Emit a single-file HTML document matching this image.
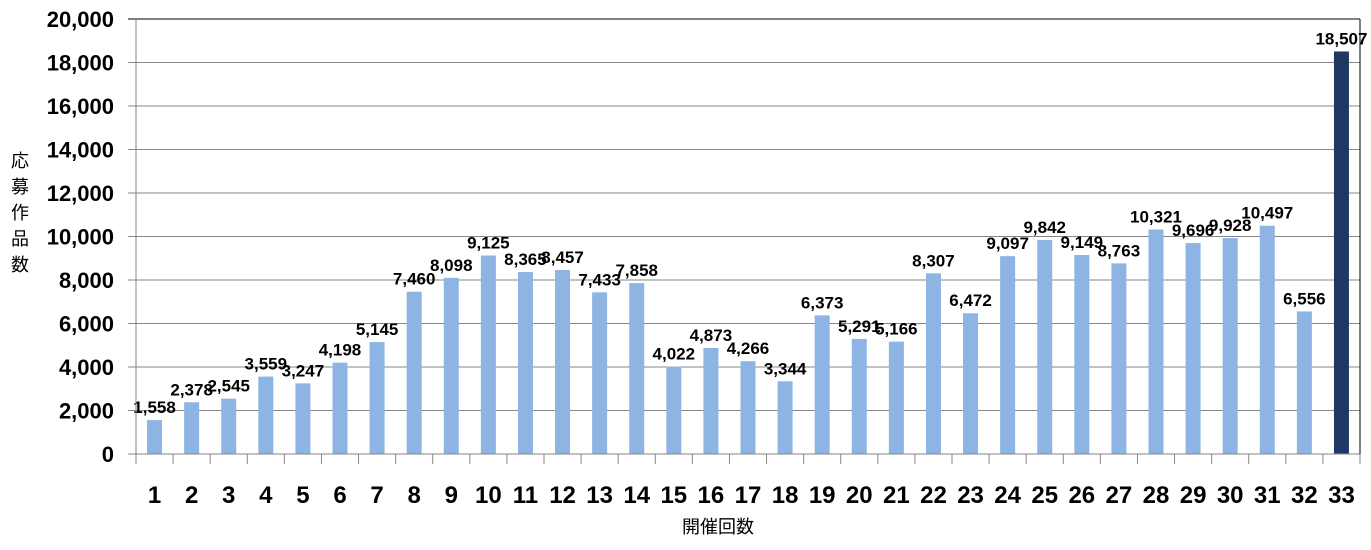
<!DOCTYPE html>
<html><head><meta charset="utf-8"><style>
body{margin:0;background:#fff}
svg text{font-family:"Liberation Sans","Noto Sans CJK JP",sans-serif}
</style></head><body>
<svg width="1371" height="545" viewBox="0 0 1371 545" xmlns="http://www.w3.org/2000/svg">
<g id="grid"></g>
<g id="bars"></g>
<g id="labels"></g>
<g id="axes"></g>
<text font-size="18" text-anchor="middle" fill="#000">
<tspan x="20" y="167">応</tspan><tspan x="20" y="193">募</tspan><tspan x="20" y="219">作</tspan><tspan x="20" y="245">品</tspan><tspan x="20" y="271">数</tspan></text>
<text x="718" y="533" font-size="18" text-anchor="middle" fill="#000">開催回数</text>
</svg>
<script>
const categories=[1,2,3,4,5,6,7,8,9,10,11,12,13,14,15,16,17,18,19,20,21,22,23,24,25,26,27,28,29,30,31,32,33];
const values=[1558,2378,2545,3559,3247,4198,5145,7460,8098,9125,8365,8457,7433,7858,4022,4873,4266,3344,6373,5291,5166,8307,6472,9097,9842,9149,8763,10321,9696,9928,10497,6556,18507];
const yTicks=[0,2000,4000,6000,8000,10000,12000,14000,16000,18000,20000];
const L=136,R=1360,T=19,B=454,yMax=20000;
const NS="http://www.w3.org/2000/svg";
const y=v=>B-(v/yMax)*(B-T);
const step=(R-L)/categories.length;
const xc=i=>L+step*(i+0.5);
const fmt=v=>v.toLocaleString('en-US');
function mk(tag,attrs,parent){const e=document.createElementNS(NS,tag);for(const k in attrs)e.setAttribute(k,attrs[k]);parent.appendChild(e);return e;}
const grid=document.getElementById('grid'),bars=document.getElementById('bars'),labels=document.getElementById('labels'),axes=document.getElementById('axes');
yTicks.forEach(t=>{
  const ln=mk('line',{x1:L-8,x2:R,y1:y(t),y2:y(t),stroke:t===yMax?'#000':'#868686','stroke-width':1},grid);
  
  
  const tx=mk('text',{x:L-22,y:y(t)+8,'font-size':22,'font-weight':'bold','text-anchor':'end',fill:'#000'},axes);
  tx.textContent=fmt(t);
  
  
});
values.forEach((v,i)=>{
  const last=i===values.length-1;
  const r=mk('rect',{x:xc(i)-7.5,y:y(v),width:15,height:B-y(v),fill:last?'#1f3864':'#8eb4e3'},bars);
  
  
  const t=mk('text',{x:xc(i),y:y(v)-7,'font-size':17,'font-weight':'bold','text-anchor':'middle',fill:'#000'},labels);
  t.textContent=fmt(v);
  
  
  const c=mk('text',{x:xc(i),y:503,'font-size':24,'font-weight':'bold','text-anchor':'middle',fill:'#000'},axes);
  c.textContent=categories[i];
  
  
});
for(let i=0;i<=categories.length;i++){
  const tk=mk('line',{x1:L+step*i,x2:L+step*i,y1:B,y2:B+10,stroke:'#868686'},axes);
  
  
}
let a=mk('line',{x1:L,x2:L,y1:T,y2:B+10,stroke:'#868686'},axes);


a=mk('line',{x1:L,x2:R,y1:B,y2:B,stroke:'#868686'},axes);


a=mk('line',{x1:R,x2:R,y1:T,y2:B,stroke:'#000'},axes);


</script>
</body></html>
